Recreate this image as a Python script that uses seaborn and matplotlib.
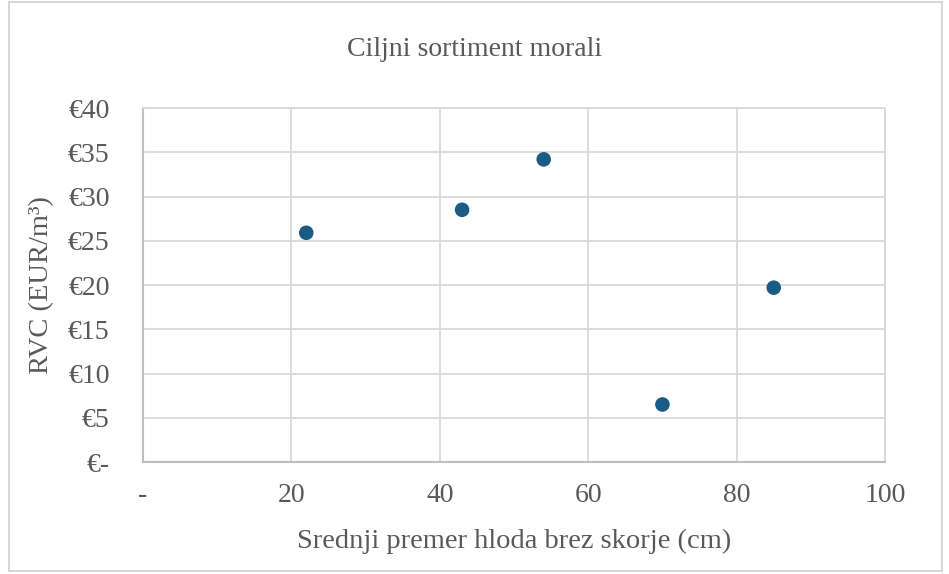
import matplotlib
matplotlib.use("Agg")
import matplotlib.pyplot as plt
import seaborn as sns
import pandas as pd
from matplotlib.patches import Rectangle

sns.set_style("white")
plt.rcParams['font.family'] = ['Liberation Serif', 'DejaVu Serif']

# data
premer = [22, 43, 54, 70, 85]
rvc = [25.9, 28.5, 34.2, 6.5, 19.7]
x_ticks = [0, 20, 40, 60, 80, 100]
x_labels = ['-', '20', '40', '60', '80', '100']
y_ticks = [0, 5, 10, 15, 20, 25, 30, 35, 40]
y_labels = ['€-', '€5', '€10', '€15', '€20', '€25', '€30', '€35', '€40']

df = pd.DataFrame({'premer': premer, 'rvc': rvc})

text_col = '#595959'
grid_col = '#d9d9d9'

fig = plt.figure(figsize=(9.49, 5.74), dpi=100)
ax = fig.add_axes([0.1507, 0.1951, 0.7819, 0.6167])

sns.scatterplot(data=df, x='premer', y='rvc', ax=ax, color='#1a5c85',
                s=110, edgecolor='none', zorder=3)

ax.set_xlim(0, 100)
ax.set_ylim(0, 40)
ax.set_xticks(x_ticks)
ax.set_xticklabels(x_labels)
ax.set_yticks(y_ticks)
ax.set_yticklabels(y_labels)
ax.tick_params(axis='both', length=0, labelsize=20, colors=text_col)
ax.tick_params(axis='x', pad=15)
ax.tick_params(axis='y', pad=24)

ax.grid(True, color=grid_col, linewidth=1.3)
ax.set_axisbelow(True)
for side in ['top', 'right']:
    ax.spines[side].set_color(grid_col)
    ax.spines[side].set_linewidth(1.3)
for side in ['left', 'bottom']:
    ax.spines[side].set_color('#bfbfbf')
    ax.spines[side].set_linewidth(1.5)

ax.set_xlabel('Srednji premer hloda brez skorje (cm)', fontsize=20.5,
              color=text_col, labelpad=15)
ax.set_ylabel('RVC (EUR/m³)', fontsize=20.5, color=text_col, labelpad=10)
fig.text(0.5, 0.913, 'Ciljni sortiment morali', ha='center', va='center',
         fontsize=20, color=text_col)

# outer chart border
fig.patches.append(Rectangle((0.01, 0.006), 0.983, 0.99, transform=fig.transFigure,
                             fill=False, edgecolor='#d0d0d0', linewidth=1.2))

fig.savefig('out.png', dpi=100)
